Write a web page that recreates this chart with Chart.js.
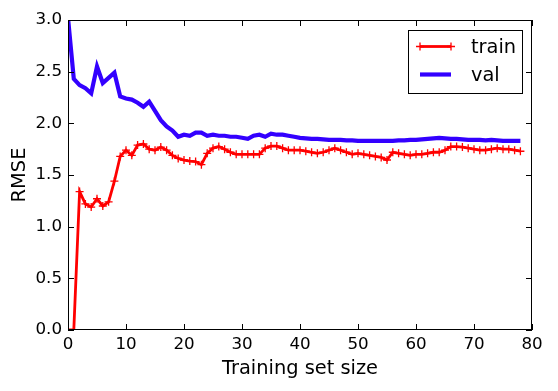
<!DOCTYPE html>
<html>
<head>
<meta charset="utf-8">
<script src="https://cdn.jsdelivr.net/npm/chart.js@4.4.1/dist/chart.umd.min.js"></script>
<style>
  html, body { margin: 0; padding: 0; background: #fff; }
  #wrap { width: 558px; height: 391px; }
</style>
</head>
<body>
<div id="wrap"><canvas id="c" width="558" height="391"></canvas></div>
<script>
// Training set size index (0..78)
const sizes = Array.from({length: 79}, (_, i) => i);

const trainRMSE = [
  0, 0, 1.34, 1.22, 1.19, 1.27, 1.20, 1.24, 1.44, 1.68,
  1.74, 1.69, 1.79, 1.80, 1.75, 1.74, 1.77, 1.74, 1.69, 1.66,
  1.645, 1.635, 1.63, 1.60, 1.71, 1.76, 1.775, 1.75, 1.72, 1.70,
  1.70, 1.70, 1.70, 1.70, 1.76, 1.78, 1.78, 1.76, 1.74, 1.74,
  1.74, 1.73, 1.72, 1.71, 1.72, 1.74, 1.76, 1.74, 1.72, 1.70,
  1.71, 1.70, 1.69, 1.68, 1.67, 1.645, 1.72, 1.71, 1.70, 1.69,
  1.70, 1.70, 1.71, 1.72, 1.72, 1.74, 1.775, 1.775, 1.77, 1.76,
  1.75, 1.74, 1.74, 1.75, 1.76, 1.75, 1.75, 1.74, 1.73
];

const valRMSE = [
  3.02, 2.43, 2.37, 2.34, 2.29, 2.55, 2.39, 2.44, 2.49, 2.26,
  2.24, 2.23, 2.20, 2.16, 2.21, 2.12, 2.03, 1.97, 1.93, 1.87,
  1.89, 1.88, 1.91, 1.91, 1.88, 1.89, 1.88, 1.88, 1.87, 1.87,
  1.86, 1.85, 1.88, 1.89, 1.87, 1.90, 1.89, 1.89, 1.88, 1.87,
  1.86, 1.855, 1.85, 1.85, 1.845, 1.84, 1.84, 1.84, 1.835, 1.835,
  1.83, 1.83, 1.83, 1.83, 1.83, 1.83, 1.83, 1.835, 1.835, 1.84,
  1.84, 1.845, 1.85, 1.855, 1.86, 1.855, 1.85, 1.85, 1.845, 1.84,
  1.84, 1.84, 1.835, 1.84, 1.835, 1.83, 1.83, 1.83, 1.83
];

const xTicks = [0, 10, 20, 30, 40, 50, 60, 70, 80];
const yTicks = [0.0, 0.5, 1.0, 1.5, 2.0, 2.5, 3.0];

const FONT = "'DejaVu Sans', sans-serif";
const RED = '#ff0000';
const BLUE = '#3300ff';

const frameTicks = {
  id: 'frameTicks',
  afterDatasetsDraw(chart) {
    const {ctx, chartArea: a, scales: {x, y}} = chart;
    ctx.save();
    ctx.strokeStyle = '#000';
    ctx.lineWidth = 1;
    ctx.beginPath();
    xTicks.forEach(v => {
      const px = Math.round(x.getPixelForValue(v)) + 0.5;
      ctx.moveTo(px, a.bottom); ctx.lineTo(px, a.bottom - 6);
      ctx.moveTo(px, a.top); ctx.lineTo(px, a.top + 6);
    });
    yTicks.forEach(v => {
      const py = Math.round(y.getPixelForValue(v)) + 0.5;
      ctx.moveTo(a.left, py); ctx.lineTo(a.left + 6, py);
      ctx.moveTo(a.right, py); ctx.lineTo(a.right - 6, py);
    });
    ctx.stroke();
    ctx.strokeRect(a.left + 0.5, a.top + 0.5, a.right - a.left - 1, a.bottom - a.top - 1);
    ctx.restore();
  }
};

const boxLegend = {
  id: 'boxLegend',
  afterDraw(chart) {
    const {ctx, chartArea: a} = chart;
    const ds = chart.data.datasets;
    const bx = a.right - 124, by = a.top + 9.5, bw = 114, bh = 63;
    ctx.save();
    ctx.fillStyle = '#fff';
    ctx.fillRect(bx, by, bw, bh);
    ctx.strokeStyle = '#000';
    ctx.lineWidth = 1;
    ctx.strokeRect(Math.round(bx) + 0.5, Math.round(by) + 0.5, bw, bh);
    ctx.font = "19.4px " + FONT;
    ctx.textBaseline = 'middle';
    ctx.fillStyle = '#000';
    ds.forEach((d, i) => {
      const cy = by + 17 + i * 28;
      const x0 = bx + 12, x1 = bx + 43;
      ctx.strokeStyle = d.borderColor;
      ctx.lineWidth = d.borderWidth;
      ctx.beginPath(); ctx.moveTo(x0, cy); ctx.lineTo(x1, cy); ctx.stroke();
      if (d.pointRadius > 0) {
        ctx.lineWidth = d.pointBorderWidth;
        [x0, x1].forEach(px => {
          ctx.beginPath();
          ctx.moveTo(px - d.pointRadius, cy); ctx.lineTo(px + d.pointRadius, cy);
          ctx.moveTo(px, cy - d.pointRadius); ctx.lineTo(px, cy + d.pointRadius);
          ctx.stroke();
        });
      }
      ctx.fillStyle = '#000';
      ctx.fillText(d.label, bx + 63, cy + 1);
    });
    ctx.restore();
  }
};

new Chart(document.getElementById('c'), {
  type: 'line',
  data: {
    datasets: [
      {
        label: 'train',
        data: sizes.map((s, i) => ({x: s, y: trainRMSE[i]})),
        borderColor: RED,
        backgroundColor: RED,
        borderWidth: 2.8,
        pointStyle: 'cross',
        pointRadius: 4,
        pointBorderWidth: 1.3,
        pointBorderColor: RED,
        pointHoverRadius: 4,
        tension: 0,
        clip: 0
      },
      {
        label: 'val',
        data: sizes.map((s, i) => ({x: s, y: valRMSE[i]})),
        borderColor: BLUE,
        backgroundColor: BLUE,
        borderWidth: 4.2,
        pointRadius: 0,
        pointBorderWidth: 0,
        tension: 0,
        clip: 0
      }
    ]
  },
  options: {
    responsive: false,
    animation: false,
    devicePixelRatio: 1,
    layout: { padding: { top: 20, right: 26, left: 0, bottom: 0 } },
    plugins: { legend: { display: false }, tooltip: { enabled: false } },
    scales: {
      x: {
        type: 'linear',
        min: 0, max: 80,
        afterFit(s) { s.height = 61; },
        afterBuildTicks(s) { s.ticks = xTicks.map(v => ({value: v})); },
        grid: { display: false, drawTicks: false },
        border: { display: false },
        ticks: { color: '#000', font: { family: FONT, size: 16.7 }, padding: 5, maxRotation: 0, autoSkip: false },
        title: { display: true, text: 'Training set size', color: '#000', font: { family: FONT, size: 19.4 }, padding: { top: 0, bottom: 10 } }
      },
      y: {
        min: 0, max: 3,
        afterFit(s) { s.width = 68; },
        afterBuildTicks(s) { s.ticks = yTicks.map(v => ({value: v})); },
        grid: { display: false, drawTicks: false },
        border: { display: false },
        ticks: { color: '#000', font: { family: FONT, size: 16.7 }, padding: 6, callback: v => Number(v).toFixed(1) },
        title: { display: true, text: 'RMSE', color: '#000', font: { family: FONT, size: 19.4 }, padding: { top: 8, bottom: 0 } }
      }
    }
  },
  plugins: [frameTicks, boxLegend]
});
</script>
</body>
</html>
